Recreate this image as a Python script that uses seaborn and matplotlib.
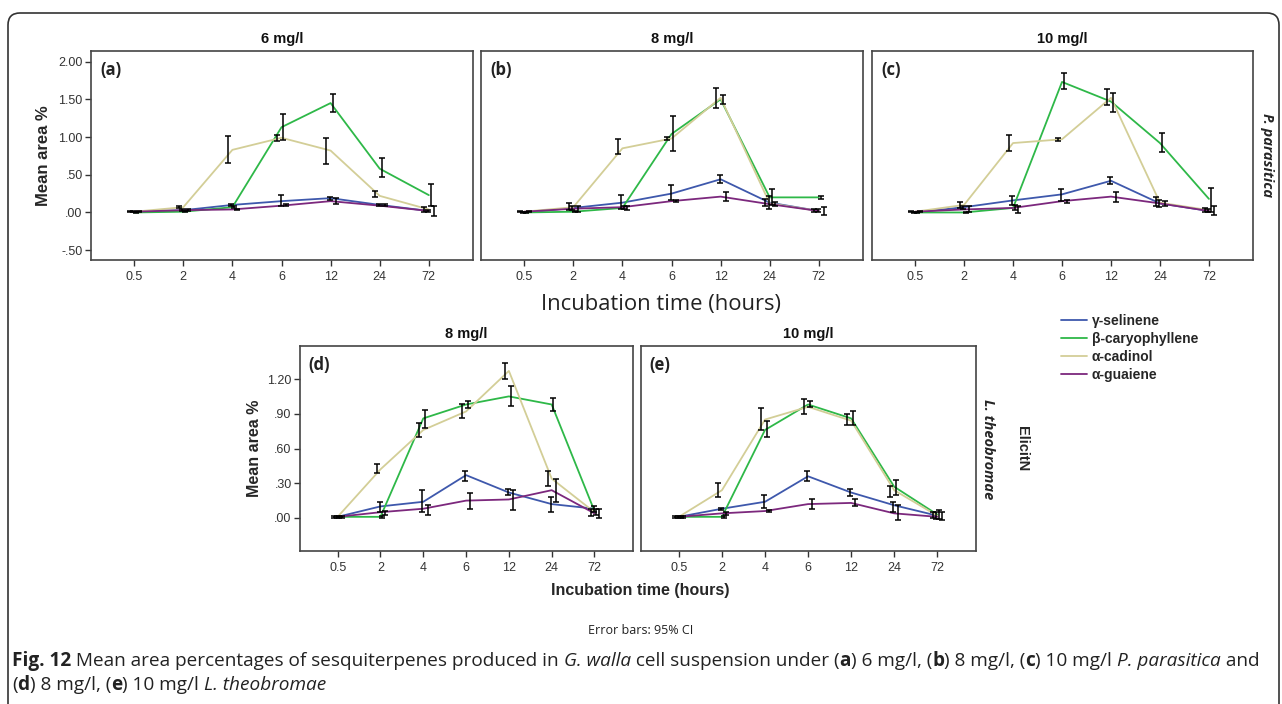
import numpy as np
import pandas as pd
import matplotlib
matplotlib.use("Agg")
import matplotlib.pyplot as plt
import seaborn as sns
from matplotlib.patches import FancyBboxPatch
from matplotlib.transforms import IdentityTransform

# --- data ---
times = ["0.5", "2", "4", "6", "12", "24", "72"]
compounds = ["γ-selinene", "β-caryophyllene", "α-cadinol", "α-guaiene"]
colors = ["#3E58AC", "#2EB848", "#D3CE97", "#7C287D"]

# (a) 6 mg/l P. parasitica
mean_a = [[0.01, 0.03, 0.10, 0.15, 0.19, 0.10, 0.02],
          [0.00, 0.01, 0.07, 1.13, 1.45, 0.58, 0.23],
          [0.01, 0.07, 0.83, 0.99, 0.82, 0.22, 0.04],
          [0.01, 0.03, 0.04, 0.09, 0.15, 0.09, 0.02]]
lo_a = [[0.00, 0.02, 0.08, 0.08, 0.17, 0.08, 0.01],
        [-0.01, 0.00, 0.06, 0.96, 1.33, 0.47, 0.08],
        [0.00, 0.06, 0.65, 0.95, 0.64, 0.20, 0.01],
        [0.00, 0.02, 0.03, 0.08, 0.11, 0.08, -0.05]]
hi_a = [[0.02, 0.05, 0.11, 0.23, 0.21, 0.11, 0.03],
        [0.01, 0.02, 0.08, 1.30, 1.57, 0.72, 0.38],
        [0.02, 0.09, 1.02, 1.03, 0.99, 0.29, 0.07],
        [0.02, 0.04, 0.05, 0.11, 0.19, 0.11, 0.08]]

# (b) 8 mg/l P. parasitica
mean_b = [[0.00, 0.06, 0.13, 0.25, 0.44, 0.13, 0.02],
          [0.00, 0.01, 0.06, 1.04, 1.50, 0.20, 0.20],
          [0.01, 0.07, 0.85, 0.98, 1.52, 0.12, 0.02],
          [0.01, 0.05, 0.07, 0.15, 0.21, 0.11, 0.02]]
lo_b = [[-0.01, 0.03, 0.05, 0.16, 0.39, 0.05, 0.01],
        [-0.01, 0.00, 0.05, 0.82, 1.44, 0.10, 0.18],
        [0.00, 0.03, 0.78, 0.96, 1.39, 0.08, 0.01],
        [0.00, 0.00, 0.03, 0.14, 0.15, 0.08, -0.03]]
hi_b = [[0.01, 0.09, 0.23, 0.36, 0.49, 0.22, 0.04],
        [0.01, 0.02, 0.08, 1.28, 1.56, 0.31, 0.22],
        [0.02, 0.12, 0.97, 1.00, 1.65, 0.18, 0.04],
        [0.02, 0.08, 0.08, 0.17, 0.27, 0.14, 0.07]]

# (c) 10 mg/l P. parasitica
mean_c = [[0.00, 0.07, 0.16, 0.24, 0.42, 0.12, 0.02],
          [0.00, 0.00, 0.06, 1.73, 1.47, 0.92, 0.18],
          [0.01, 0.10, 0.92, 0.97, 1.52, 0.13, 0.03],
          [0.01, 0.04, 0.06, 0.15, 0.21, 0.12, 0.02]]
lo_c = [[-0.01, 0.04, 0.10, 0.15, 0.38, 0.07, 0.00],
        [-0.01, -0.01, 0.03, 1.63, 1.33, 0.80, 0.00],
        [0.00, 0.06, 0.82, 0.95, 1.43, 0.08, 0.00],
        [0.00, 0.00, -0.01, 0.13, 0.14, 0.09, -0.03]]
hi_c = [[0.01, 0.09, 0.22, 0.31, 0.47, 0.16, 0.04],
        [0.01, 0.01, 0.10, 1.85, 1.58, 1.05, 0.33],
        [0.02, 0.14, 1.03, 0.99, 1.63, 0.21, 0.06],
        [0.02, 0.09, 0.08, 0.17, 0.27, 0.15, 0.08]]

# (d) 8 mg/l L. theobromae
mean_d = [[0.01, 0.10, 0.14, 0.37, 0.22, 0.12, 0.08],
          [0.01, 0.01, 0.86, 0.98, 1.05, 0.98, 0.06],
          [0.01, 0.42, 0.76, 0.92, 1.27, 0.34, 0.05],
          [0.01, 0.05, 0.08, 0.15, 0.16, 0.24, 0.04]]
lo_d = [[0.00, 0.05, 0.05, 0.32, 0.20, 0.05, 0.05],
        [0.00, 0.00, 0.78, 0.95, 0.97, 0.92, 0.03],
        [0.00, 0.39, 0.70, 0.86, 1.20, 0.28, 0.02],
        [0.00, 0.03, 0.03, 0.08, 0.07, 0.14, 0.00]]
hi_d = [[0.02, 0.14, 0.24, 0.41, 0.25, 0.18, 0.10],
        [0.02, 0.02, 0.93, 1.01, 1.14, 1.04, 0.08],
        [0.02, 0.47, 0.82, 0.98, 1.34, 0.41, 0.08],
        [0.02, 0.06, 0.11, 0.22, 0.24, 0.34, 0.08]]

# (e) 10 mg/l L. theobromae
mean_e = [[0.01, 0.08, 0.14, 0.36, 0.22, 0.11, 0.02],
          [0.01, 0.01, 0.76, 0.98, 0.86, 0.27, 0.03],
          [0.01, 0.24, 0.85, 0.96, 0.84, 0.24, 0.02],
          [0.01, 0.04, 0.06, 0.12, 0.13, 0.04, 0.01]]
lo_e = [[0.00, 0.07, 0.09, 0.32, 0.19, 0.05, -0.01],
        [0.00, 0.00, 0.70, 0.96, 0.80, 0.20, -0.01],
        [0.00, 0.18, 0.76, 0.90, 0.80, 0.18, 0.00],
        [0.00, 0.03, 0.05, 0.08, 0.10, -0.02, -0.02]]
hi_e = [[0.02, 0.09, 0.20, 0.41, 0.25, 0.14, 0.05],
        [0.02, 0.02, 0.84, 1.01, 0.92, 0.33, 0.07],
        [0.02, 0.30, 0.95, 1.03, 0.90, 0.28, 0.05],
        [0.02, 0.05, 0.07, 0.16, 0.16, 0.11, 0.05]]

# horizontal dodge of the error bars (SPSS style)
dodge = [-0.02, 0.04, -0.09, 0.10]

sns.set_style("white")
plt.rcParams['font.family'] = ['Liberation Sans', 'DejaVu Sans']

W, H = 1282, 704
fig = plt.figure(figsize=(W / 100, H / 100), dpi=100)


def px_axes(x0, y0, x1, y1):
    return fig.add_axes([x0 / W, 1 - y1 / H, (x1 - x0) / W, (y1 - y0) / H])


def draw_panel(ax, mean, lo, hi, letter, title, ylim, yticks, show_y):
    rows = []
    for k, comp in enumerate(compounds):
        for i, t in enumerate(times):
            rows.append({"pos": i, "value": mean[k][i], "compound": comp})
    df = pd.DataFrame(rows)
    sns.lineplot(data=df, x="pos", y="value", hue="compound", hue_order=compounds,
                 palette=colors, linewidth=1.3, legend=False, ax=ax, errorbar=None)
    for k in range(len(compounds)):
        x = np.arange(len(times)) + dodge[k]
        m = np.array(mean[k])
        err = np.vstack([m - np.array(lo[k]), np.array(hi[k]) - m])
        ax.errorbar(x, m, yerr=err, fmt="none", ecolor="black", elinewidth=1.1,
                    capsize=2, capthick=1.1, zorder=5)
    ax.set_xlim(-0.88, 6.9)
    ax.set_ylim(*ylim)
    ax.set_xticks(range(len(times)))
    ax.set_xticklabels(times)
    ax.set_xlabel("")
    ax.set_ylabel("")
    ax.tick_params(axis="x", direction="out", length=4, width=1, color="#333333",
                   labelsize=9, labelcolor="#333333", bottom=True, pad=4)
    if show_y:
        ax.set_yticks(yticks)
        ax.set_yticklabels([("%.2f" % v).replace("0.", ".", 1) if abs(v) < 1 else "%.2f" % v
                            for v in yticks])
        ax.tick_params(axis="y", direction="out", length=4, width=1, color="#333333",
                       labelsize=9, labelcolor="#333333", left=True, pad=2)
    else:
        ax.set_yticks([])
    for s in ax.spines.values():
        s.set_color("#444444")
        s.set_linewidth(1.2)
    ax.text(0.025, 0.95, letter, transform=ax.transAxes, fontsize=12, fontweight="bold",
            va="top", ha="left", color="#222222", family=["Open Sans", "DejaVu Sans"])
    ax.set_title(title, fontsize=10.5, fontweight="bold", pad=6, color="#111111")


ylim_top = (-0.63, 2.14)
yt_top = [-0.5, 0.0, 0.5, 1.0, 1.5, 2.0]
ylim_bot = (-0.285, 1.485)
yt_bot = [0.0, 0.3, 0.6, 0.9, 1.2]

ax_a = px_axes(91, 51, 473, 260)
ax_b = px_axes(481, 51, 863, 260)
ax_c = px_axes(872, 51, 1253, 260)
ax_d = px_axes(300, 346, 633, 551)
ax_e = px_axes(641, 346, 976, 551)

draw_panel(ax_a, mean_a, lo_a, hi_a, "(a)", "6 mg/l", ylim_top, yt_top, True)
draw_panel(ax_b, mean_b, lo_b, hi_b, "(b)", "8 mg/l", ylim_top, yt_top, False)
draw_panel(ax_c, mean_c, lo_c, hi_c, "(c)", "10 mg/l", ylim_top, yt_top, False)
draw_panel(ax_d, mean_d, lo_d, hi_d, "(d)", "8 mg/l", ylim_bot, yt_bot, True)
draw_panel(ax_e, mean_e, lo_e, hi_e, "(e)", "10 mg/l", ylim_bot, yt_bot, False)

ax_a.set_ylabel("Mean area %", fontsize=12, fontweight="bold", labelpad=5)
ax_d.set_ylabel("Mean area %", fontsize=11.5, fontweight="bold", labelpad=4)

# side labels
fig.text(1267 / W, 1 - 155 / H, "P. parasitica", rotation=270, fontsize=10.5,
         fontweight="bold", fontstyle="italic", ha="center", va="center",
         family=["Open Sans", "DejaVu Sans"])
fig.text(988 / W, 1 - 449 / H, "L. theobromae", rotation=270, fontsize=10.5,
         fontweight="bold", fontstyle="italic", ha="center", va="center",
         family=["Open Sans", "DejaVu Sans"])
fig.text(1022 / W, 1 - 449 / H, "ElicitN", rotation=270, fontsize=10.5,
         fontweight="bold", ha="center", va="center")

# middle axis title
fig.text(661 / W, 1 - 304 / H, "Incubation time (hours)", fontsize=15.8,
         ha="center", va="center", family=["Open Sans", "DejaVu Sans"], color="#222222")

# legend
handles = [plt.Line2D([], [], color=c, lw=1.3) for c in colors]
fig.legend(handles, compounds, loc="upper left", bbox_to_anchor=(1061 / W, 1 - 314 / H),
           frameon=False, handlelength=1.9, handletextpad=0.3, borderpad=0,
           borderaxespad=0, labelspacing=0.28, prop={"weight": "bold", "size": 10})

# bottom texts
fig.text(640 / W, 1 - 591 / H, "Incubation time (hours)", fontsize=11.5, fontweight="bold",
         ha="center", va="center")
fig.text(641 / W, 1 - 631 / H, "Error bars: 95% CI", fontsize=9,
         ha="center", va="center", family=["Open Sans", "DejaVu Sans"], color="#222222")

# caption with mixed styles
renderer = fig.canvas.get_renderer()
cap_size = 13.72
cap_font = ["Open Sans", "DejaVu Sans"]


def rich_line(x_px, y_px, segments):
    x = x_px
    for txt, weight, style in segments:
        t = fig.text(x / W, 1 - y_px / H, txt, fontsize=cap_size, fontweight=weight,
                     fontstyle=style, family=cap_font, va="center", ha="left",
                     color="#222222")
        bb = t.get_window_extent(renderer)
        x += bb.width


N, B, I = "normal", "bold", "italic"
line1 = [("Fig. 12", B, N), (" Mean area percentages of sesquiterpenes produced in ", N, N),
         ("G. walla", N, I), (" cell suspension under (", N, N), ("a", B, N),
         (") 6 mg/l, (", N, N), ("b", B, N), (") 8 mg/l, (", N, N), ("c", B, N),
         (") 10 mg/l ", N, N), ("P. parasitica", N, I), (" and", N, N)]
line2 = [("(", N, N), ("d", B, N), (") 8 mg/l, (", N, N), ("e", B, N),
         (") 10 mg/l ", N, N), ("L. theobromae", N, I)]
rich_line(12, 661, line1)
rich_line(12, 685, line2)

# outer rounded frame
frame = FancyBboxPatch((8, -30), 1271, H - 13 + 30, boxstyle="round,pad=0,rounding_size=12",
                       transform=IdentityTransform(), fill=False, lw=1.2, ec="#333333")
fig.add_artist(frame)

fig.savefig("out.png", dpi=100)
